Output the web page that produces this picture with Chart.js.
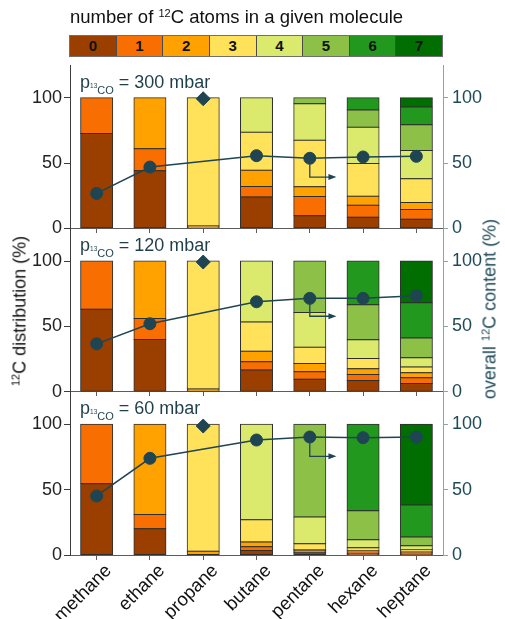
<!DOCTYPE html>
<html>
<head>
<meta charset="utf-8">
<script src="https://cdn.jsdelivr.net/npm/chart.js@4.4.1/dist/chart.umd.min.js"></script>
<style>
  html, body { margin: 0; padding: 0; background: #fff; }
  body { font-family: "Liberation Sans", Arial, sans-serif; }
  #figure { position: relative; width: 505px; height: 619px; overflow: hidden; }
  #chart { position: absolute; left: 0; top: 0; }
  #legendTitle { position: absolute; left: 70px; top: 6px; font-size: 18.5px; color: #111; white-space: nowrap; }
  #legendTitle sup, .axis-title sup { font-size: 11px; vertical-align: 6px; }
  #colorBar { position: absolute; left: 69px; top: 35px; width: 374px; height: 22px; display: flex; box-sizing: border-box; border: 1px solid #707070; }
  #colorBar div { flex: 1; text-align: center; font-weight: bold; font-size: 15px; line-height: 20px; color: #111; border-left: 1px solid #4a4a4a; }
  #colorBar div:first-child { border-left: none; }
  .axis-title { position: absolute; font-size: 18px; white-space: nowrap; transform: translate(-50%, -50%) rotate(-90deg); }
</style>
</head>
<body>
<div id="figure">
  <canvas id="chart" width="505" height="619"></canvas>
  <div id="legendTitle">number of <sup>12</sup>C atoms in a given molecule</div>
  <div id="colorBar"></div>
  <div class="axis-title" style="left: 20px; top: 311px; color: #111;"><sup>12</sup>C distribution (%)</div>
  <div class="axis-title" style="left: 490px; top: 309px; color: #1f4a57;">overall <sup>12</sup>C content (%)</div>
</div>
<script>
(() => {
  const molecules = ["methane", "ethane", "propane", "butane", "pentane", "hexane", "heptane"];
  const atomCounts = ["0", "1", "2", "3", "4", "5", "6", "7"];
  const countColors = ["#9a3f00", "#f96e00", "#ffa200", "#ffe25a", "#dbe96c", "#8cc046", "#22991e", "#006e00"];
  const tickValues = [0, 50, 100];
  const pressures = [300, 120, 60];

  // share (%) of molecules with 0, 1, 2 ... 12C atoms, one list per molecule
  const dist300 = [
    [72.6, 27.4],
    [44, 17, 39],
    [0, 0, 1.8, 98.2],
    [24, 8, 12.5, 29, 26.5],
    [9.7, 14.7, 7.4, 35.6, 28, 4.6],
    [8.5, 9.2, 6.9, 25.1, 27.7, 13.1, 9.5],
    [6.9, 7.5, 5.3, 18.2, 21.6, 19.7, 13.6, 7.2]
  ];
  const dist120 = [
    [63, 37],
    [40, 16, 44],
    [0, 0, 2, 98],
    [16.5, 6.4, 8, 22.5, 46.6],
    [9.5, 5.7, 6.4, 12.4, 26.6, 39.4],
    [8.5, 4.6, 4.4, 7.8, 14.4, 26.8, 33.5],
    [6.2, 4.4, 3.8, 4.4, 7.2, 15, 27, 32]
  ];
  const dist60 = [
    [54.6, 45.4],
    [20, 11, 69],
    [0, 0, 2.8, 97.2],
    [3.5, 2.9, 3.5, 17.1, 73],
    [1.8, 1.5, 1, 4.4, 20.4, 70.9],
    [1.3, 1, 1, 2.3, 6.1, 22.2, 66.1],
    [0.8, 1, 1, 1.5, 2.8, 6.7, 24.5, 61.7]
  ];

  // overall 12C content (%), propane shown separately as a diamond
  const overall300 = [26.7, 46.9, null, 55.6, 53.6, 54.6, 55.1];
  const overall120 = [36.6, 52, null, 68.8, 71.4, 71.4, 73.5];
  const overall60 = [45.2, 74, null, 88, 90.3, 89.8, 90.3];
  const propaneContent = [99.2, 99.2, 98.7];

  // arrow from the pentane point: turns at this content value, ends halfway to hexane
  const arrowTurn = [39.2, 57.7, 75.5];
  const arrowFrom = 4;
  const arrowTo = 4.5;

  const FONT = "'Liberation Sans', Arial, sans-serif";
  const DARK_TEAL = "#1f4552";
  const LABEL_COLOR = "#1f3f4a";
  const LEFT_AXIS = "#3d3d3d";
  const RIGHT_AXIS = "#8fa2aa";
  const X_AXIS = "#5c5c5c";

  const colorBar = document.getElementById("colorBar");
  atomCounts.forEach((count, index) => {
    const cell = document.createElement("div");
    cell.textContent = count;
    cell.style.background = countColors[index];
    colorBar.appendChild(cell);
  });

  const panels = [
    { pressure: pressures[0], dist: dist300, overall: overall300, propane: propaneContent[0], turn: arrowTurn[0] },
    { pressure: pressures[1], dist: dist120, overall: overall120, propane: propaneContent[1], turn: arrowTurn[1] },
    { pressure: pressures[2], dist: dist60, overall: overall60, propane: propaneContent[2], turn: arrowTurn[2] }
  ];

  const datasets = [];
  panels.forEach((panel, p) => {
    const leftId = "yL" + (p + 1);
    const rightId = "yR" + (p + 1);

    atomCounts.forEach((count, c) => {
      datasets.push({
        type: "bar",
        label: panel.pressure + " mbar, " + count,
        data: molecules.map((name, m) => (panel.dist[m][c] === undefined ? null : panel.dist[m][c])),
        backgroundColor: countColors[c],
        borderColor: "#2e2e2e",
        borderWidth: 1,
        borderSkipped: false,
        inflateAmount: 0.5,
        yAxisID: leftId,
        xAxisID: "x",
        stack: "all",
        order: 3
      });
    });

    datasets.push({
      type: "line",
      label: panel.pressure + " mbar overall",
      data: panel.overall,
      borderColor: DARK_TEAL,
      backgroundColor: DARK_TEAL,
      borderWidth: 1.5,
      pointRadius: 6,
      pointBorderWidth: 1,
      pointBackgroundColor: DARK_TEAL,
      spanGaps: true,
      tension: 0,
      yAxisID: rightId,
      xAxisID: "x",
      order: 1
    });

    datasets.push({
      type: "line",
      label: panel.pressure + " mbar propane",
      data: molecules.map((name) => (name === "propane" ? panel.propane : null)),
      showLine: false,
      pointStyle: "rectRot",
      pointRadius: 7,
      pointBorderWidth: 1,
      borderColor: DARK_TEAL,
      pointBackgroundColor: DARK_TEAL,
      yAxisID: rightId,
      xAxisID: "x",
      order: 0
    });
  });

  function fixTicks(scale) {
    scale.ticks = tickValues.map((value) => ({ value }));
  }

  const scales = {
    x: {
      type: "category",
      axis: "x",
      position: "bottom",
      offset: true,
      stacked: true,
      grid: { drawOnChartArea: false, offset: false, tickLength: 5, color: X_AXIS },
      border: { color: X_AXIS },
      ticks: {
        font: { family: FONT, size: 18.5 },
        color: "#111",
        minRotation: 45,
        maxRotation: 45,
        padding: 0,
        labelOffset: 12
      },
      afterFit: (scale) => { scale.height = 64; }
    }
  };

  panels.forEach((panel, p) => {
    scales["yL" + (p + 1)] = {
      type: "linear",
      axis: "y",
      position: "left",
      stack: "left",
      stackWeight: 1,
      weight: panels.length - p,
      stacked: true,
      min: 0,
      max: 125,
      afterBuildTicks: fixTicks,
      afterFit: (scale) => { scale.width = 70; },
      grid: { drawOnChartArea: false, tickLength: 6, color: LEFT_AXIS },
      border: { color: LEFT_AXIS },
      ticks: { font: { family: FONT, size: 18 }, color: "#222", padding: 2 }
    };

    scales["yR" + (p + 1)] = {
      type: "linear",
      axis: "y",
      position: "right",
      stack: "right",
      stackWeight: 1,
      weight: p + 1,
      min: 0,
      max: 125,
      afterBuildTicks: fixTicks,
      afterFit: (scale) => { scale.width = 62; },
      grid: { drawOnChartArea: false, tickLength: 5, color: RIGHT_AXIS },
      border: { color: RIGHT_AXIS },
      ticks: { font: { family: FONT, size: 18 }, color: "#1f4a57", padding: 4 }
    };

    if (p < panels.length - 1) {
      scales["x" + (p + 1)] = {
        type: "category",
        axis: "x",
        position: { ["yL" + (p + 1)]: 0 },
        offset: true,
        grid: { drawOnChartArea: false, offset: false, tickLength: 4, color: X_AXIS },
        border: { color: X_AXIS },
        ticks: { display: false }
      };
    }
  });

  const arrowPlugin = {
    id: "pentaneArrows",
    afterDatasetsDraw(chart) {
      const ctx = chart.ctx;
      const xScale = chart.scales.x;

      panels.forEach((panel, p) => {
        const yScale = chart.scales["yR" + (p + 1)];
        const x0 = xScale.getPixelForValue(arrowFrom);
        const x1 = xScale.getPixelForValue(arrowTo);
        const y0 = yScale.getPixelForValue(panel.overall[arrowFrom]);
        const y1 = yScale.getPixelForValue(panel.turn);

        ctx.save();
        ctx.strokeStyle = DARK_TEAL;
        ctx.fillStyle = DARK_TEAL;
        ctx.lineWidth = 1.3;
        ctx.beginPath();
        ctx.moveTo(x0, y0 + 6);
        ctx.lineTo(x0, y1);
        ctx.lineTo(x1 - 6, y1);
        ctx.stroke();

        ctx.beginPath();
        ctx.moveTo(x1, y1);
        ctx.lineTo(x1 - 8, y1 - 3);
        ctx.lineTo(x1 - 8, y1 + 3);
        ctx.closePath();
        ctx.fill();
        ctx.restore();
      });
    }
  };

  const panelLabelPlugin = {
    id: "panelLabels",
    afterDraw(chart) {
      const ctx = chart.ctx;

      panels.forEach((panel, p) => {
        const scale = chart.scales["yL" + (p + 1)];
        const y = scale.top + 22.5;
        let x = chart.chartArea.left + 10;
        const parts = [
          { text: "p", size: 18, dy: 0 },
          { text: "13", size: 6.5, dy: 0 },
          { text: "CO", size: 11, dy: 6 },
          { text: " = " + panel.pressure + " mbar", size: 18, dy: 0 }
        ];

        ctx.save();
        ctx.fillStyle = LABEL_COLOR;
        ctx.textBaseline = "alphabetic";
        ctx.textAlign = "left";
        parts.forEach((part) => {
          ctx.font = part.size + "px " + FONT;
          ctx.fillText(part.text, x, y + part.dy);
          x += ctx.measureText(part.text).width;
        });
        ctx.restore();
      });
    }
  };

  new Chart(document.getElementById("chart").getContext("2d"), {
    data: { labels: molecules, datasets },
    options: {
      responsive: false,
      animation: false,
      layout: { padding: { top: 65, left: 0, right: 0, bottom: 0 } },
      datasets: {
        bar: { categoryPercentage: 1, barPercentage: 0.6 }
      },
      plugins: {
        legend: { display: false },
        tooltip: { enabled: false }
      },
      scales
    },
    plugins: [arrowPlugin, panelLabelPlugin]
  });
})();
</script>
</body>
</html>
